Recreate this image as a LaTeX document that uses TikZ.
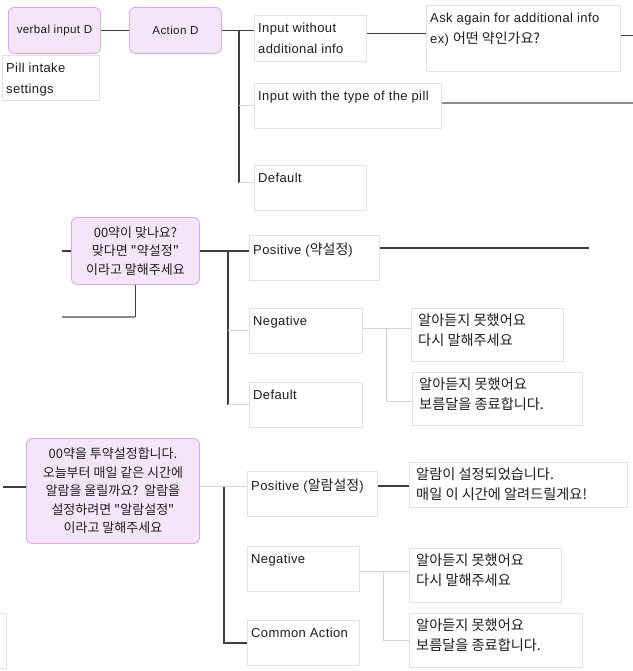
\documentclass[tikz,border=0pt]{standalone}
\usepackage{fontspec}
\setmainfont{Liberation Sans}[LetterSpace=3]
\newfontfamily\kr{Noto Sans CJK KR}
\usepackage{xcolor}
\definecolor{mmfill}{RGB}{244,230,248}
\definecolor{mmline}{RGB}{218,170,234}
\definecolor{boxline}{RGB}{226,226,226}
\definecolor{ink}{RGB}{30,30,30}
\definecolor{linedark}{RGB}{62,62,62}
\definecolor{linelight}{RGB}{212,212,212}
\definecolor{linemid}{RGB}{140,140,140}

\begin{document}
\begin{tikzpicture}[x=1pt, y=-1pt,
  mbox/.style={draw=mmline, fill=mmfill, line width=0.9pt, rounded corners=6pt, anchor=north west, inner sep=0pt, align=center, text=ink, font=\fontsize{11.6}{18.5}\selectfont},
  krbox/.style={mbox, font=\kr\fontsize{13}{18.5}\selectfont},
  leaf/.style={draw=boxline, line width=0.9pt, anchor=north west, inner sep=0pt},
  txt/.style={anchor=north west, inner sep=0pt, align=left, text=ink, xshift=4pt, yshift=-8pt, font=\fontsize{13}{20.5}\selectfont},
  krtxt/.style={txt, xshift=3pt, yshift=2pt, font=\kr\fontsize{14.2}{20}\selectfont},
  dk/.style={draw=linedark, line width=1.2pt},
  lt/.style={draw=linelight, line width=1pt},
  md/.style={draw=linemid, line width=1.5pt}]
  \path[fill=white, use as bounding box] (0,0) rectangle (632,671);

  % top row
  \node[mbox, minimum width=92pt, minimum height=46pt] (verbal) at (8,7) {verbal input D};
  \node[mbox, minimum width=92pt, minimum height=46pt] (actD) at (129,7) {Action D};
  \node[leaf, minimum width=97pt, minimum height=45pt, label={[txt]north west:{Pill intake\\settings}}] (pill) at (2,55) {};
  \node[leaf, minimum width=112pt, minimum height=46pt, label={[txt]north west:{Input without\\additional info}}] (inWo) at (254,15) {};
  \node[leaf, minimum width=194pt, minimum height=66pt, label={[txt]north west:{Ask again for additional info\\ex) {\kr\fontsize{14}{20}\selectfont 어떤 약인가요?}}}] (ask) at (426,5) {};
  \node[leaf, minimum width=187pt, minimum height=45pt, label={[txt]north west:{Input with the type of the pill}}] (inTy) at (254,83) {};
  \node[leaf, minimum width=112pt, minimum height=45pt, label={[txt]north west:{Default}}] (dfl1) at (254,165) {};

  \draw[dk] (verbal) -- (actD);
  \draw[dk] (actD.east) -- (actD.east -| inWo.west);
  \coordinate (tA) at ([xshift=17pt]actD.east);
  \coordinate (hDfl1) at ([yshift=5pt]dfl1.west);
  \draw[dk] (tA) -- (tA |- hDfl1);
  \draw[lt] (tA |- hDfl1) -- (hDfl1);
  \draw[lt] (tA |- inTy.west) -- (inTy.west);
  \coordinate (hInWo) at ([yshift=5pt]inWo.east);
  \draw[dk] (hInWo) -- (hInWo -| ask.west);
  \draw[dk] ([yshift=3pt]ask.east) -- ++(12,0) coordinate (askOut);
  \draw[md] ([yshift=3pt]inTy.east) -- ++(191,0) coordinate (tyOut);

  % middle
  \node[krbox, minimum width=128pt, minimum height=67pt] (conf) at (71,217) {00약이 맞나요?\\맞다면 "약설정"\\이라고 말해주세요};
  \node[leaf, minimum width=130pt, minimum height=45pt, label={[txt]north west:{Positive ({\kr\fontsize{14}{20}\selectfont 약설정})}}] (posA) at (249,235) {};
  \node[leaf, minimum width=113pt, minimum height=45pt, label={[txt]north west:{Negative}}] (negA) at (249,308) {};
  \node[leaf, minimum width=113pt, minimum height=45pt, label={[txt]north west:{Default}}] (dfl2) at (249,382) {};
  \node[leaf, minimum width=152pt, minimum height=53pt, label={[krtxt]north west:{알아듣지 못했어요\\다시 말해주세요}}] (retryA) at (411,308) {};
  \node[leaf, minimum width=170pt, minimum height=53pt, label={[krtxt]north west:{알아듣지 못했어요\\보름달을 종료합니다.}}] (quitA) at (412,372) {};

  \draw[dk] (conf.west) -- ++(-9,0) coordinate (confIn);
  \draw[dk] (conf.south) -- ++(0,32) coordinate (confDn);
  \draw[md] (confDn) -- ++(-73,0) coordinate (confBack);
  \draw[dk] (conf.east) -- (conf.east -| posA.west);
  \coordinate (tB) at ([xshift=28pt]conf.east);
  \draw[dk] (tB) -- (tB |- dfl2.west);
  \draw[lt] (tB |- dfl2.west) -- (dfl2.west);
  \draw[lt] (tB |- negA.west) -- (negA.west);
  \draw[dk] ([yshift=10pt]posA.east) -- ++(209,0) coordinate (posOut);
  \draw[lt] ([yshift=2pt]negA.east) -- ++(24,0) coordinate (tC);
  \draw[lt] (tC) -- (tC -| retryA.west);
  \draw[lt] (tC) |- ([yshift=-3pt]quitA.west);

  % bottom
  \node[krbox, minimum width=173pt, minimum height=105pt] (setq) at (26,438) {00약을 투약설정합니다.\\오늘부터 매일 같은 시간에\\알람을 울릴까요?\ \ 알람을\\설정하려면 "알람설정"\\이라고 말해주세요};
  \node[leaf, minimum width=130pt, minimum height=45pt, label={[txt]north west:{Positive ({\kr\fontsize{14}{20}\selectfont 알람설정})}}] (posB) at (247,471) {};
  \node[leaf, minimum width=218pt, minimum height=45pt, label={[krtxt]north west:{알람이 설정되었습니다.\\매일 이 시간에 알려드릴게요!}}] (alarm) at (409,462) {};
  \node[leaf, minimum width=112pt, minimum height=45pt, label={[txt]north west:{Negative}}] (negB) at (247,546) {};
  \node[leaf, minimum width=112pt, minimum height=45pt, label={[txt]north west:{Common Action}}] (common) at (247,620) {};
  \node[leaf, minimum width=152pt, minimum height=54pt, label={[krtxt]north west:{알아듣지 못했어요\\다시 말해주세요}}] (retryB) at (409,548) {};
  \node[leaf, minimum width=173pt, minimum height=54pt, label={[krtxt]north west:{알아듣지 못했어요\\보름달을 종료합니다.}}] (quitB) at (409,613) {};
  \draw[boxline, line width=0.9pt] (0,613) -- (6,613) -- (6,668) -- (0,668);

  \coordinate (hSetq) at ([yshift=4pt]setq.west);
  \draw[dk] (hSetq) -- ++(-23,0) coordinate (setIn);
  \coordinate (hSetqR) at ([yshift=4pt]setq.east);
  \draw[lt] (hSetqR) -- (hSetqR -| posB.west);
  \coordinate (tD) at ([xshift=24pt]hSetqR);
  \draw[dk] (tD) |- (common.west);
  \coordinate (hPosB) at ([yshift=8pt]posB.east);
  \draw[dk] (hPosB) -- (hPosB -| alarm.west);
  \draw[lt] ([yshift=-3pt]negB.east) -- ++(24,0) coordinate (tE);
  \draw[lt] (tE) -- (tE -| retryB.west);
  \draw[lt] (tE) |- (quitB.west);
\end{tikzpicture}
\end{document}
